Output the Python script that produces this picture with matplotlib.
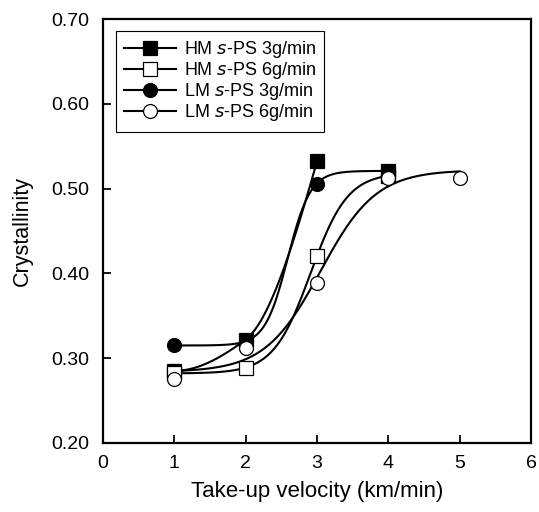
import numpy as np
import matplotlib.pyplot as plt

plt.rcParams['font.family'] = ['Liberation Sans', 'DejaVu Sans']

# data
x_hm3 = [1, 2, 3, 4]
y_hm3 = [0.285, 0.322, 0.532, 0.521]
x_hm6 = [1, 2, 3, 4]
y_hm6 = [0.282, 0.289, 0.421, 0.515]
x_lm3 = [1, 2, 3, 4]
y_lm3 = [0.315, 0.320, 0.506, 0.521]
x_lm6 = [1, 2, 3, 4, 5]
y_lm6 = [0.275, 0.312, 0.389, 0.513, 0.513]

labels = ['HM $s$-PS 3g/min', 'HM $s$-PS 6g/min', 'LM $s$-PS 3g/min', 'LM $s$-PS 6g/min']


def sigmoid_fit(x, y):
    # 4 parameter sigmoid, crude grid search for centre and width
    x = np.asarray(x, float)
    y = np.asarray(y, float)
    best = None
    for x0 in np.linspace(1.5, 4.5, 301):
        for w in np.linspace(0.08, 1.0, 93):
            s = 1 / (1 + np.exp(-(x - x0) / w))
            A = np.column_stack([np.ones_like(s), s])
            coef, *_ = np.linalg.lstsq(A, y, rcond=None)
            err = np.sum((A @ coef - y) ** 2)
            if best is None or err < best[0]:
                best = (err, x0, w, coef)
    _, x0, w, (a, b) = best
    return lambda t: a + b / (1 + np.exp(-(t - x0) / w))


def pchip(x, y):
    # monotone cubic through the points (scipy-style end slopes)
    x = np.asarray(x, float)
    y = np.asarray(y, float)
    h = np.diff(x)
    d = np.diff(y) / h
    m = np.zeros_like(y)
    for i in range(1, len(y) - 1):
        if d[i - 1] * d[i] > 0:
            w1 = 2 * h[i] + h[i - 1]
            w2 = h[i] + 2 * h[i - 1]
            m[i] = (w1 + w2) / (w1 / d[i - 1] + w2 / d[i])
    m0 = ((2 * h[0] + h[1]) * d[0] - h[0] * d[1]) / (h[0] + h[1])
    m[0] = m0 if m0 * d[0] > 0 else 0
    mn = ((2 * h[-1] + h[-2]) * d[-1] - h[-1] * d[-2]) / (h[-1] + h[-2])
    m[-1] = mn if mn * d[-1] > 0 else 0

    def f(t):
        idx = np.clip(np.searchsorted(x, t) - 1, 0, len(x) - 2)
        u = (t - x[idx]) / h[idx]
        return ((2 * u**3 - 3 * u**2 + 1) * y[idx] + (u**3 - 2 * u**2 + u) * h[idx] * m[idx]
                + (-2 * u**3 + 3 * u**2) * y[idx + 1] + (u**3 - u**2) * h[idx] * m[idx + 1])
    return f


fig = plt.figure(figsize=(5.39, 5.12), dpi=100)
ax = fig.add_axes([0.1911, 0.1348, 0.794, 0.828])

# the HM 3g/min curve in the original stops at 3 km/min
curves = [pchip(x_hm3[:3], y_hm3[:3]), sigmoid_fit(x_hm6, y_hm6),
          sigmoid_fit(x_lm3, y_lm3), sigmoid_fit(x_lm6, y_lm6)]
series = [(x_hm3, y_hm3, 's', 'black', 3), (x_hm6, y_hm6, 's', 'white', 4),
          (x_lm3, y_lm3, 'o', 'black', 4), (x_lm6, y_lm6, 'o', 'white', 5)]

for (xx, yy, mk, fc, xend), f, lab in zip(series, curves, labels):
    xs = np.linspace(xx[0], xend, 200)
    ax.plot(xs, f(xs), color='black', lw=1.5, zorder=2)
    ax.plot(xx, yy, ls='none', marker=mk, ms=10, mfc=fc, mec='black', mew=0.9, zorder=3)
    # proxy for the legend
    ax.plot([], [], color='black', lw=1.5, marker=mk, ms=10, mfc=fc, mec='black', mew=0.9, label=lab)

ax.set_xlim(0, 6)
ax.set_ylim(0.20, 0.70)
ax.set_xticks(range(0, 7))
ax.set_yticks([0.20, 0.30, 0.40, 0.50, 0.60, 0.70])
ax.set_yticklabels(['%.2f' % v for v in ax.get_yticks()])
ax.tick_params(direction='in', length=6, width=1.3, labelsize=14)
ax.tick_params(axis='y', pad=10)
ax.tick_params(axis='x', pad=9)
for s in ax.spines.values():
    s.set_linewidth(1.6)

ax.set_xlabel('Take-up velocity (km/min)', fontsize=16, labelpad=6)
ax.set_ylabel('Crystallinity', fontsize=15.5, labelpad=13)

leg = ax.legend(loc='upper left', bbox_to_anchor=(0.03, 0.971), fontsize=13,
                fancybox=False, edgecolor='black', framealpha=1, handlelength=2.9,
                borderpad=0.45, labelspacing=0.0, handletextpad=0.4, borderaxespad=0)
leg.get_frame().set_linewidth(0.8)

fig.savefig('out.png', dpi=100)
